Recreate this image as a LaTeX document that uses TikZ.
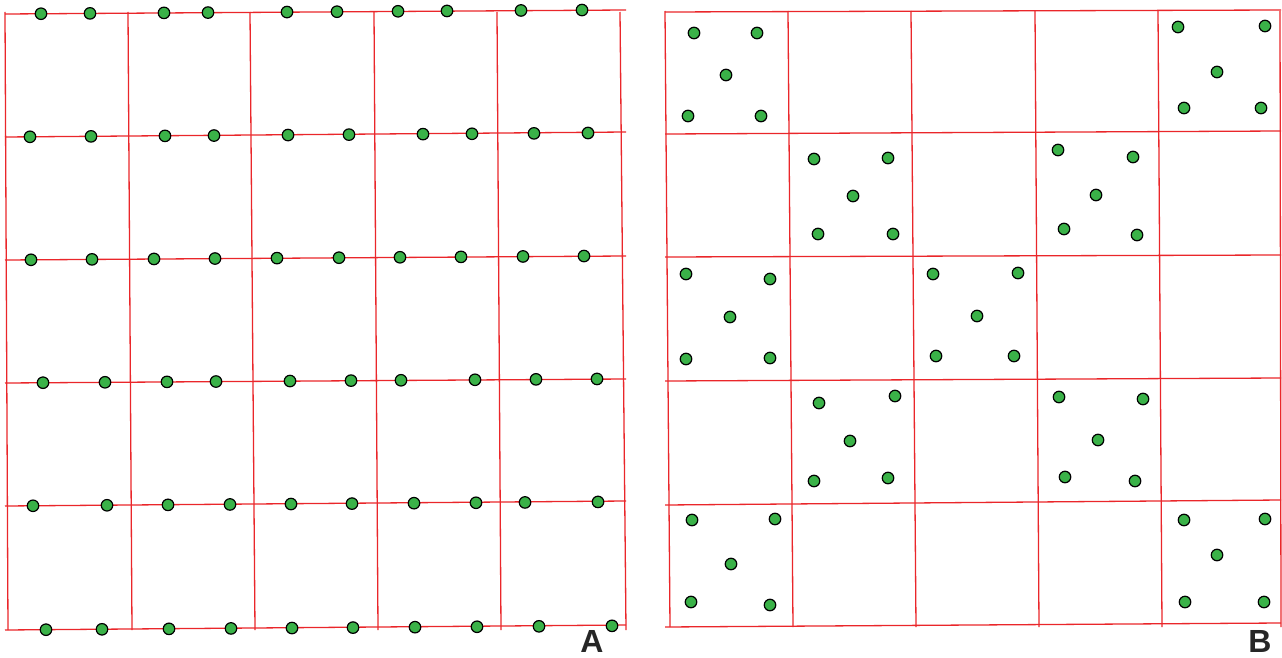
\documentclass[tikz,border=0pt]{standalone}
\usepackage{fontspec}
\setsansfont{Liberation Sans}
\usepackage{tikz}
\usetikzlibrary{positioning}
\definecolor{gridred}{RGB}{234,38,42}
\definecolor{dotgreen}{RGB}{58,178,72}
\tikzset{every picture/.prefix style={execute at begin picture={\sffamily}}}

\begin{document}
\begin{tikzpicture}[x=1pt,y=-1pt,grid/.style={gridred,line width=1.3pt},
  pt/.style={circle,draw=black,fill=dotgreen,line width=1.2pt,inner sep=0pt,minimum size=11.5pt},
  lab/.style={font=\fontsize{32}{32}\selectfont\bfseries,text=black!85,inner sep=0pt,anchor=base}]
\useasboundingbox (0,0) rectangle (1282,658);
% panel A: dots on the grid lines
\foreach \t/\b in {5/8,128/132,250/255,374/378,497/501,620/626} \draw[grid] (\t,12) -- (\b,630);
\foreach \l/\r in {14/10,137/132,260/256,383/379,506/501,630/625} \draw[grid] (5,\l) -- (626,\r);
\foreach \y/\xs in {14/{41,90,164,208,287,337,398,447,521,582},
                    137/{30,91,165,214,288,349,423,472,534,588},
                    260/{31,92,154,215,277,339,400,461,523,584},
                    383/{43,105,167,216,290,351,401,475,536,597},
                    506/{33,107,168,230,291,352,414,476,525,598},
                    630/{46,102,169,231,292,353,415,477,539,612}}
  \foreach \x in \xs \node[pt] at (\x,{\y-0.0068*\x}) {};
\node[lab] (la) at (592,652) {A};
% panel B: dots inside every other cell
\foreach \t/\b in {665/670,788/793,911/916,1035/1039,1158/1162,1280/1281} \draw[grid] (\t,11) -- (\b,627);
\foreach \l/\r in {12/10,134/131,257/255,381/378,505/500,627/623} \draw[grid] (665,\l) -- (1281,\r);
\foreach \p in {(694,33),(757,33),(726,75),(688,116),(761,116),
                (1178,27),(1265,26),(1217,72),(1184,108),(1261,108),
                (814,159),(888,158),(853,196),(818,234),(893,234),
                (1058,150),(1133,157),(1096,195),(1064,229),(1137,235),
                (686,274),(770,279),(730,317),(686,359),(770,358),
                (933,274),(1018,273),(977,316),(936,356),(1014,356),
                (819,403),(895,396),(850,441),(814,481),(888,478),
                (1059,397),(1143,399),(1098,440),(1065,477),(1135,481),
                (692,520),(775,519),(731,564),(691,602),(770,605),
                (1184,520),(1265,519),(1217,555),(1185,602),(1264,602)}
  \node[pt] at \p {};
\node[lab] (lb) at (1260,652) {B};
\end{tikzpicture}
\end{document}
